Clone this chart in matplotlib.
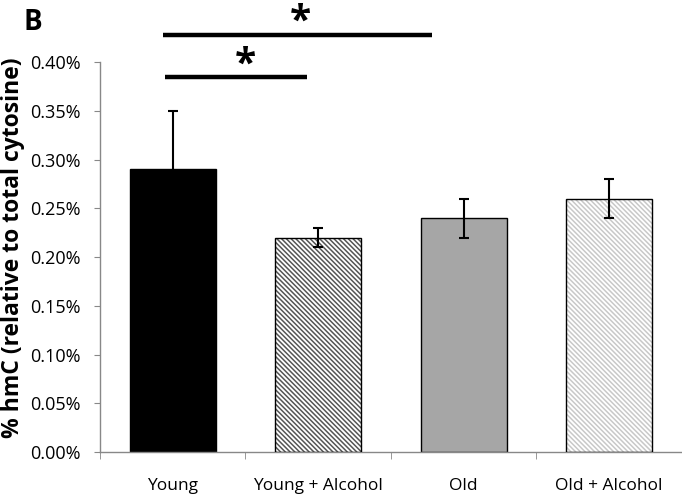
import matplotlib
matplotlib.use("Agg")
import matplotlib.pyplot as plt
from matplotlib.ticker import FuncFormatter, FixedLocator

plt.rcParams['font.family'] = ['Open Sans', 'DejaVu Sans']
plt.rcParams['hatch.linewidth'] = 1.1

# Dados
groups = ['Young', 'Young + Alcohol', 'Old', 'Old + Alcohol']
hmc = [0.29, 0.22, 0.24, 0.26]
sem = [0.06, 0.01, 0.02, 0.02]
face_colors = ['#000000', '#ffffff', '#a6a6a6', '#ffffff']
hatch_colors = [None, '#555555', None, '#c8c8c8']

fig = plt.figure(figsize=(6.82, 4.96), dpi=100)
ax = fig.add_axes([0.1466, 0.0887, 0.8534, 0.7863])

x = range(len(groups))
for i in x:
    if hatch_colors[i] is not None:
        ax.bar(i, hmc[i], width=0.59, color='white', edgecolor=hatch_colors[i],
               hatch='\\' * 7, linewidth=0, zorder=2)
        ax.bar(i, hmc[i], width=0.59, fill=False, edgecolor='black', linewidth=1.0, zorder=3)
    else:
        ax.bar(i, hmc[i], width=0.59, color=face_colors[i], edgecolor='black',
               linewidth=1.0, zorder=2)

ax.errorbar(list(x), hmc, yerr=sem, fmt='none', ecolor='black', elinewidth=1.5,
            capsize=3.5, capthick=1.5, zorder=4)

ax.set_xlim(-0.5, 3.47)
ax.set_ylim(0, 0.40)
ax.yaxis.set_major_locator(FixedLocator([i * 0.05 for i in range(9)]))
ax.yaxis.set_major_formatter(FuncFormatter(lambda v, p: f'{v:.2f}%'))
ax.set_xticks(list(x))
ax.set_xticklabels(groups)
ax.set_xticks([-0.5, 0.5, 1.5, 2.5, 3.5], minor=True)
ax.tick_params(axis='x', which='major', length=0, pad=19, labelsize=12.5)
ax.tick_params(axis='x', which='minor', length=5, color='#888888', direction='out')
ax.tick_params(axis='y', length=4, color='#888888', labelsize=13, pad=10)

for s in ['top', 'right']:
    ax.spines[s].set_visible(False)
for s in ['left', 'bottom']:
    ax.spines[s].set_color('#888888')
    ax.spines[s].set_linewidth(1.0)

ax.set_ylabel('% hmC (relative to total cytosine)', fontsize=16.5, fontweight='bold')
ax.yaxis.set_label_coords(-0.128, 0.525)

# Barras de significancia
ax.plot([-0.07, 1.78], [0.4277, 0.4277], color='black', lw=3.2, clip_on=False, solid_capstyle='butt')
ax.text(0.88, 0.441, '*', ha='center', va='center', fontsize=28, fontweight='bold', clip_on=False)
ax.plot([-0.05, 0.92], [0.3846, 0.3846], color='black', lw=3.2, clip_on=False, solid_capstyle='butt')
ax.text(0.5, 0.397, '*', ha='center', va='center', fontsize=28, fontweight='bold', clip_on=False)

fig.text(0.035, 0.955, 'B', fontsize=20, fontweight='bold', va='center', ha='left')

fig.savefig('out.png', dpi=100)
